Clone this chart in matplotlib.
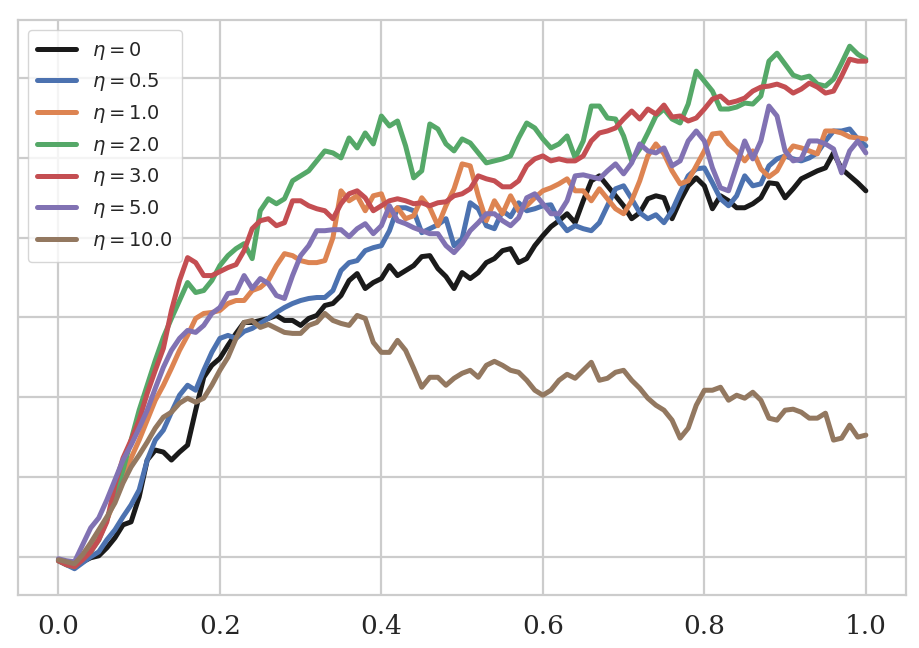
import numpy as np
import matplotlib
matplotlib.use("Agg")
import matplotlib.pyplot as plt
import seaborn as sns
from matplotlib.ticker import MultipleLocator, NullFormatter

# progress on [0, 1], sampled every 0.01
x = np.linspace(0.0, 1.0, 101)

eta_0 = [-3, -7, -10, -5, -1, 1, 9, 19, 32, 35,
         60, 97, 107, 105, 97, 105, 112, 147, 180, 192,
         199, 212, 224, 235, 235, 237, 239, 242, 237, 237,
         232, 239, 242, 252, 254, 262, 277, 284, 269, 275,
         279, 292, 282, 287, 292, 301, 302, 289, 281, 269,
         285, 279, 285, 295, 299, 307, 309, 295, 299, 312,
         322, 331, 337, 344, 335, 357, 377, 382, 372, 362,
         352, 339, 345, 359, 362, 360, 339, 357, 372, 380,
         372, 349, 362, 357, 350, 350, 354, 360, 375, 374,
         360, 369, 379, 383, 387, 390, 405, 389, 382, 375,
         367]

eta_05 = [-4, -8, -12, -6, 0, 5, 17, 27, 40, 52,
          67, 97, 117, 127, 145, 162, 172, 167, 187, 205,
          219, 222, 219, 226, 229, 234, 239, 245, 250, 254,
          257, 259, 260, 260, 267, 287, 295, 297, 307, 310,
          312, 327, 350, 350, 347, 325, 329, 333, 339, 312,
          319, 355, 349, 332, 329, 347, 341, 355, 347, 349,
          352, 353, 337, 327, 332, 329, 327, 335, 352, 369,
          372, 359, 345, 339, 343, 335, 347, 365, 382, 389,
          390, 375, 359, 352, 362, 382, 372, 374, 392, 399,
          402, 399, 397, 400, 405, 417, 427, 427, 429, 419,
          412]

eta_1 = [-4, -7, -9, -1, 7, 19, 37, 57, 79, 99,
         117, 137, 157, 172, 189, 207, 222, 239, 244, 245,
         247, 254, 257, 257, 267, 270, 277, 292, 304, 302,
         297, 295, 295, 297, 320, 367, 357, 362, 347, 362,
         364, 342, 350, 339, 342, 360, 350, 332, 352, 369,
         394, 392, 362, 337, 357, 344, 362, 347, 352, 360,
         367, 370, 374, 379, 367, 367, 357, 369, 359, 349,
         344, 357, 377, 402, 414, 404, 387, 374, 377, 392,
         407, 424, 425, 414, 407, 397, 407, 389, 381, 387,
         402, 412, 410, 407, 404, 427, 427, 425, 421, 420,
         419]

eta_2 = [-4, -8, -10, -1, 5, 17, 37, 62, 87, 117,
         147, 172, 197, 220, 239, 257, 275, 265, 267, 277,
         292, 302, 309, 314, 299, 347, 359, 354, 359, 377,
         382, 387, 397, 407, 405, 400, 420, 410, 425, 414,
         442, 432, 437, 412, 380, 387, 434, 429, 414, 407,
         419, 415, 405, 395, 397, 399, 402, 420, 435, 430,
         419, 410, 414, 422, 400, 417, 452, 452, 440, 439,
         422, 397, 409, 425, 442, 449, 439, 435, 454, 487,
         477, 467, 449, 449, 451, 455, 454, 462, 497, 505,
         494, 483, 480, 482, 474, 472, 479, 495, 512, 504,
         499]

eta_3 = [-4, -8, -10, -3, 5, 17, 35, 72, 99, 117,
         137, 164, 187, 209, 247, 277, 300, 295, 282, 282,
         286, 290, 293, 307, 329, 337, 339, 332, 335, 357,
         357, 352, 349, 347, 339, 354, 364, 367, 360, 347,
         352, 357, 359, 357, 354, 355, 352, 355, 356, 362,
         364, 369, 382, 379, 377, 371, 371, 377, 392, 399,
         402, 397, 399, 397, 397, 402, 417, 425, 427, 430,
         439, 447, 439, 449, 444, 453, 441, 442, 437, 440,
         449, 459, 462, 455, 457, 460, 467, 471, 472, 474,
         471, 465, 469, 475, 471, 465, 467, 482, 499, 497,
         497]

eta_5 = [-2, -4, -5, 12, 29, 39, 57, 77, 97, 112,
         129, 147, 169, 190, 207, 219, 227, 225, 232, 244,
         250, 264, 265, 282, 269, 279, 274, 262, 259, 282,
         302, 312, 327, 327, 328, 328, 321, 329, 334, 324,
         332, 352, 337, 334, 330, 327, 324, 324, 312, 305,
         314, 327, 335, 344, 344, 337, 332, 340, 360, 364,
         354, 344, 344, 357, 382, 383, 381, 379, 387, 394,
         384, 395, 414, 407, 405, 410, 392, 397, 417, 427,
         417, 390, 370, 367, 392, 417, 399, 417, 452, 442,
         407, 397, 399, 417, 417, 414, 409, 385, 407, 417,
         405]

eta_10 = [-3, -5, -7, 2, 14, 27, 40, 54, 74, 90,
          102, 115, 129, 140, 145, 154, 159, 155, 159, 172,
          187, 200, 219, 235, 237, 230, 233, 229, 225, 224,
          224, 232, 235, 244, 237, 234, 232, 242, 239, 215,
          205, 205, 217, 207, 189, 170, 180, 180, 172, 179,
          184, 187, 180, 192, 196, 192, 187, 185, 177, 167,
          162, 167, 177, 183, 179, 187, 195, 177, 179, 185,
          187, 177, 169, 159, 152, 147, 137, 119, 129, 152,
          167, 167, 170, 157, 162, 159, 165, 157, 139, 137,
          147, 148, 145, 139, 139, 144, 117, 119, 132, 120,
          122]

series = [eta_0, eta_05, eta_1, eta_2, eta_3, eta_5, eta_10]
labels = [r'$\eta = 0$', r'$\eta = 0.5$', r'$\eta = 1.0$', r'$\eta = 2.0$',
          r'$\eta = 3.0$', r'$\eta = 5.0$', r'$\eta = 10.0$']
colors = ['#1a1a1a', '#4c72b0', '#dd8452', '#55a868',
          '#c44e52', '#8172b3', '#937860']

sns.set_style('whitegrid')
plt.rcParams['font.family'] = 'serif'

fig, ax = plt.subplots(figsize=(9.2, 6.48), dpi=100)
fig.subplots_adjust(left=0.0196, right=0.985, top=0.969, bottom=0.082)

for y, lab, c in zip(series, labels, colors):
    ax.plot(x, y, color=c, lw=3.6, label=lab)

ax.set_xticks([0.0, 0.2, 0.4, 0.6, 0.8, 1.0])
ax.set_xticklabels(['0.0', '0.2', '0.4', '0.6', '0.8', '1.0'])
ax.yaxis.set_major_locator(MultipleLocator(80))
ax.yaxis.set_major_formatter(NullFormatter())
ax.tick_params(axis='x', labelsize=19, pad=14, length=0)
ax.tick_params(axis='y', length=0)
ax.grid(True, color='#cccccc', lw=1.6)
for s in ax.spines.values():
    s.set_color('#cccccc')
    s.set_linewidth(1.6)

ax.legend(loc='upper left', fontsize=14, handlelength=2.0,
          labelspacing=0.5, borderpad=0.5)

fig.savefig('out.png', dpi=100)
